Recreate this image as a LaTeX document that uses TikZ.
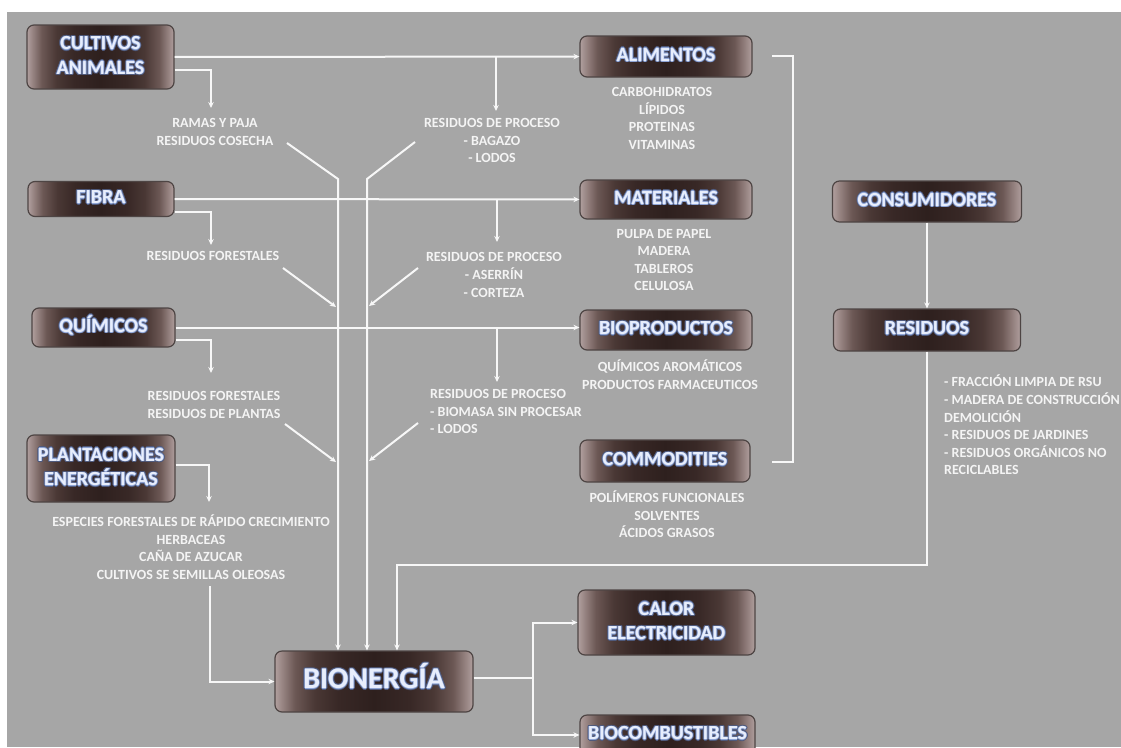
\documentclass[tikz,border=0pt]{standalone}
\usepackage{fontspec}
\setmainfont{Carlito}
\usetikzlibrary{arrows.meta,calc}

\definecolor{bgray}{HTML}{A6A6A6}
\definecolor{wline}{HTML}{F7F7F7}
\definecolor{txtc}{HTML}{F4F4F4}
\definecolor{gout}{HTML}{4F5A7C}
\definecolor{gin}{HTML}{8FA5D6}
\definecolor{gtext}{HTML}{E8EEFC}
\definecolor{boxedge}{HTML}{4E4544}
\definecolor{b0}{HTML}{2E201E}
\definecolor{b1}{HTML}{382826}
\definecolor{b2}{HTML}{4A3835}
\definecolor{b3}{HTML}{6C5855}
\definecolor{b4}{HTML}{958280}
\definecolor{b5}{HTML}{B09F9E}

% dark middle, light pinkish sides (25bp..75bp spans the box width)
\pgfdeclarehorizontalshading{boxshade}{100bp}{%
  color(0bp)=(b5); color(25bp)=(b5); color(27bp)=(b4); color(30bp)=(b3);
  color(35bp)=(b2); color(41bp)=(b1); color(50bp)=(b0); color(59bp)=(b1);
  color(65bp)=(b2); color(70bp)=(b3); color(73bp)=(b4); color(75bp)=(b5); color(100bp)=(b5)}

% white box labels with a blue halo
\newcommand\gstack[1]{\begin{tabular}{@{}c@{}}#1\end{tabular}}
\newcommand\gcopy[3]{\rlap{\hspace*{#1}\raisebox{#2}{\textcolor{#3}{\gstack{\gtxt}}}}}
\newcommand\glowlabel[1]{\def\gtxt{#1}%
  \gcopy{1.5pt}{0pt}{gout}\gcopy{-1.5pt}{0pt}{gout}\gcopy{0pt}{1.5pt}{gout}\gcopy{0pt}{-1.5pt}{gout}%
  \gcopy{1.05pt}{1.05pt}{gout}\gcopy{-1.05pt}{1.05pt}{gout}\gcopy{1.05pt}{-1.05pt}{gout}\gcopy{-1.05pt}{-1.05pt}{gout}%
  \gcopy{0.6pt}{0pt}{gin}\gcopy{-0.6pt}{0pt}{gin}\gcopy{0pt}{0.6pt}{gin}\gcopy{0pt}{-0.6pt}{gin}%
  \textcolor{gtext}{\gstack{\gtxt}}}

\newcommand\boxfont{\fontsize{20}{24.5}\selectfont\bfseries}
\newcommand\bigboxfont{\fontsize{30}{36}\selectfont\bfseries}
\newcommand\lblfont{\fontsize{14}{17.6}\selectfont\bfseries}

\tikzset{
  box/.style={rectangle, rounded corners=7pt, draw=boxedge, line width=1.2pt,
    shade, shading=boxshade, inner sep=0pt, font=\boxfont},
  lbl/.style={text=txtc, font=\lblfont, align=center, inner sep=0pt},
  wl/.style={draw=wline, line width=2pt},
  arr/.style={wl, -{Stealth[length=6pt,width=5.5pt]}},
}

\begin{document}
\begin{tikzpicture}[x=1pt,y=-1pt]
\useasboundingbox (0,0) rectangle (1121,747);
\fill[white] (0,0) rectangle (1121,747);
\fill[bgray] (7,12) rectangle (1121,747);

% boxes
\node[box, minimum width=147pt, minimum height=64pt] (cult) at (100.5,57) {\glowlabel{CULTIVOS\\ANIMALES}};
\node[box, minimum width=146pt, minimum height=35pt] (fibra) at (101,199) {\glowlabel{FIBRA}};
\node[box, minimum width=143pt, minimum height=39pt] (quim) at (103.5,327.5) {\glowlabel{QUÍMICOS}};
\node[box, minimum width=148pt, minimum height=67pt] (plant) at (101,468.5) {\glowlabel{PLANTACIONES\\ENERGÉTICAS}};
\node[box, minimum width=172pt, minimum height=41pt] (alim) at (666,56.5) {\glowlabel{ALIMENTOS}};
\node[box, minimum width=172pt, minimum height=39pt] (mat) at (666,199.5) {\glowlabel{MATERIALES}};
\node[box, minimum width=172pt, minimum height=40pt] (biop) at (666,330) {\glowlabel{BIOPRODUCTOS}};
\node[box, minimum width=170pt, minimum height=42pt] (comm) at (665,461) {\glowlabel{COMMODITIES}};
\node[box, minimum width=189pt, minimum height=41pt] (cons) at (927,201.5) {\glowlabel{CONSUMIDORES}};
\node[box, minimum width=187pt, minimum height=42pt] (resid) at (927,330) {\glowlabel{RESIDUOS}};
\node[box, minimum width=198pt, minimum height=61pt, font=\bigboxfont] (bion) at (374,681.5) {\glowlabel{BIONERGÍA}};
\node[box, minimum width=177pt, minimum height=65pt] (calor) at (666.5,622.5) {\glowlabel{CALOR\\ELECTRICIDAD}};
\node[box, minimum width=175pt, minimum height=40pt] (bioc) at (667.5,735) {\glowlabel{BIOCOMBUSTIBLES}};

% plain labels
\node[lbl] (ramas) at (215,132) {RAMAS Y PAJA\\RESIDUOS COSECHA};
\node[lbl] (rp1) at (492,140.5) {RESIDUOS DE PROCESO\\- BAGAZO\\- LODOS};
\node[lbl] (alimtx) at (662,118.5) {CARBOHIDRATOS\\LÍPIDOS\\PROTEINAS\\VITAMINAS};
\node[lbl] (rf1) at (213,256) {RESIDUOS FORESTALES};
\node[lbl] (rp2) at (494,275) {RESIDUOS DE PROCESO\\- ASERRÍN\\- CORTEZA};
\node[lbl] (mattx) at (664,260) {PULPA DE PAPEL\\MADERA\\TABLEROS\\CELULOSA};
\node[lbl] (rf2) at (214,405) {RESIDUOS FORESTALES\\RESIDUOS DE PLANTAS};
\node[lbl, align=left, anchor=west] (rp3) at (430,411.5) {RESIDUOS DE PROCESO\\- BIOMASA SIN PROCESAR\\- LODOS};
\node[lbl] (biotx) at (670,374.5) {QUÍMICOS AROMÁTICOS\\PRODUCTOS FARMACEUTICOS};
\node[lbl] (commtx) at (667,514.5) {POLÍMEROS FUNCIONALES\\SOLVENTES\\ÁCIDOS GRASOS};
\node[lbl] (esp) at (191,547) {ESPECIES FORESTALES DE RÁPIDO CRECIMIENTO\\HERBACEAS\\CAÑA DE AZUCAR\\CULTIVOS SE SEMILLAS OLEOSAS};
\node[lbl, align=left, anchor=west] (restx) at (944,425) {- FRACCIÓN LIMPIA DE RSU\\- MADERA DE CONSTRUCCIÓN\\DEMOLICIÓN\\- RESIDUOS DE JARDINES\\- RESIDUOS ORGÁNICOS NO\\RECICLABLES};

% junction and end points
\coordinate (j1) at (496,57);   \coordinate (j1e) at (496,111);
\coordinate (k1e) at (211,108);
\coordinate (j2) at (497,199);  \coordinate (j2e) at (497,242);
\coordinate (k2e) at (211,245);
\coordinate (j3) at (497,327.5);  \coordinate (j3e) at (497,382);
\coordinate (k3e) at (211,373);
\coordinate (k4e) at (209,502);
\coordinate (p0) at (210,586);
\coordinate (tl0) at (287,143); \coordinate (tl1) at (338,179);
\coordinate (tr0) at (415,142); \coordinate (tr1) at (367,179);
\coordinate (ml0) at (283,268); \coordinate (ml1) at (336,307);
\coordinate (mr0) at (418,268); \coordinate (mr1) at (369,306);
\coordinate (ll0) at (285,424); \coordinate (ll1) at (336,462);
\coordinate (lr0) at (418,423); \coordinate (lr1) at (369,461);
\coordinate (br0) at (772,56);  \coordinate (br1) at (793,462); \coordinate (br2) at (772,462);
\coordinate (rj) at (397,565);
\coordinate (bj) at (533,677.5);

% source rows
\draw[arr] (cult) -- (alim);
\draw[arr] (j1) -- (j1e);
\draw[arr] ($(cult.east)+(0,13)$) -| (k1e);
\draw[arr] (fibra) -- (mat);
\draw[arr] (j2) -- (j2e);
\draw[arr] ($(fibra.east)+(0,13)$) -| (k2e);
\draw[arr] (quim.east) -- (quim.east -| biop.west);
\draw[arr] (j3) -- (j3e);
\draw[arr] ($(quim.east)+(0,12.5)$) -| (k3e);
\draw[arr] ($(plant.east)+(0,-3.5)$) -| (k4e);
\draw[arr] (p0) |- (bion.west);

% residue trunks into bioenergy
\draw[arr] (tl0) -- (tl1) -- (tl1 |- bion.north);
\draw[arr] (tr0) -- (tr1) -- (tr1 |- bion.north);
\draw[arr] (ml0) -- (ml1);
\draw[arr] (mr0) -- (mr1);
\draw[arr] (ll0) -- (ll1);
\draw[arr] (lr0) -- (lr1);

% products bracket and consumers
\draw[wl] (br0) -| (br1) -- (br2);
\draw[arr] (cons) -- (resid);
\draw[arr] (resid.south) |- (rj) -- (rj |- bion.north);

% outputs
\draw[wl] ($(bion.east)+(0,-4)$) -- (bj);
\draw[arr] (bj) |- (calor.west);
\draw[arr] (bj) |- (bioc.west);
\end{tikzpicture}
\end{document}
